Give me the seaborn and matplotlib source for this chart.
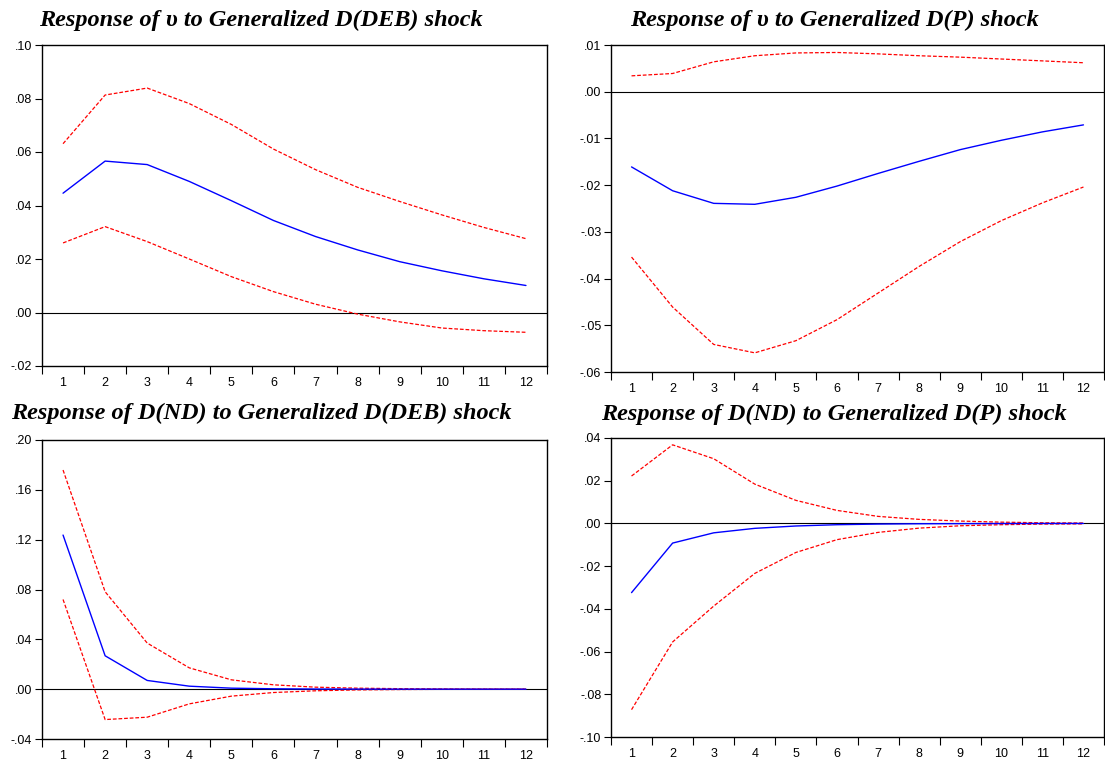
import numpy as np
import pandas as pd
import matplotlib
matplotlib.use("Agg")
import matplotlib.pyplot as plt
from matplotlib.ticker import FuncFormatter
import seaborn as sns

# periods 1..12
periods = list(range(1, 13))

# panel 1: response of upsilon to D(DEB)
p1_resp = [0.0446, 0.0566, 0.0553, 0.0490, 0.0418, 0.0344, 0.0284, 0.0234, 0.0190, 0.0156, 0.0126, 0.0101]
p1_up = [0.0631, 0.0813, 0.0839, 0.0781, 0.0703, 0.0611, 0.0534, 0.0468, 0.0415, 0.0365, 0.0318, 0.0276]
p1_lo = [0.0260, 0.0321, 0.0265, 0.0200, 0.0134, 0.0078, 0.0031, -0.0006, -0.0035, -0.0058, -0.0068, -0.0074]

# panel 2: response of upsilon to D(P)
p2_resp = [-0.0161, -0.0212, -0.0239, -0.0241, -0.0226, -0.0202, -0.0175, -0.0149, -0.0124, -0.0104, -0.0086, -0.0071]
p2_up = [0.0034, 0.0039, 0.0064, 0.0077, 0.0083, 0.0084, 0.0081, 0.0077, 0.0074, 0.0070, 0.0066, 0.0062]
p2_lo = [-0.0354, -0.0461, -0.0541, -0.0559, -0.0533, -0.0488, -0.0431, -0.0374, -0.0321, -0.0276, -0.0238, -0.0204]

# panel 3: response of D(ND) to D(DEB)
p3_resp = [0.1237, 0.0268, 0.0070, 0.0024, 0.0008, 0.0003, 0.0001, 0.00005, 0.00002, 0.00001, 0.0, 0.0]
p3_up = [0.1759, 0.0782, 0.0370, 0.0171, 0.0075, 0.0035, 0.0016, 0.0008, 0.0004, 0.0002, 0.0001, 0.00005]
p3_lo = [0.0720, -0.0244, -0.0225, -0.0118, -0.0056, -0.0027, -0.0013, -0.0006, -0.0003, -0.00015, -0.00008, -0.00004]

# panel 4: response of D(ND) to D(P)
p4_resp = [-0.0324, -0.0092, -0.0044, -0.0023, -0.0012, -0.0006, -0.0003, -0.00015, -0.0001, -0.00005, -0.00002, -0.00001]
p4_up = [0.0222, 0.0368, 0.0303, 0.0184, 0.0108, 0.0061, 0.0033, 0.0019, 0.0011, 0.0006, 0.0003, 0.0002]
p4_lo = [-0.0872, -0.0555, -0.0387, -0.0234, -0.0136, -0.0076, -0.0042, -0.0022, -0.0011, -0.0006, -0.0003, -0.0002]

titles = [
    "Response of \u03c5 to Generalized D(DEB) shock",
    "Response of \u03c5 to Generalized D(P) shock",
    "Response of D(ND) to Generalized D(DEB) shock",
    "Response of D(ND) to Generalized D(P) shock",
]
ylims = [(-0.02, 0.10), (-0.06, 0.01), (-0.04, 0.20), (-0.10, 0.04)]
ysteps = [0.02, 0.01, 0.04, 0.02]

sns.set_style("ticks")
plt.rcParams['font.family'] = ['Liberation Sans', 'DejaVu Sans']

W, H = 1105, 761
fig = plt.figure(figsize=(W / 100, H / 100), dpi=100)


def px_axes(left, top, right, bottom):
    return fig.add_axes([left / W, 1 - bottom / H, (right - left) / W, (bottom - top) / H])


axes = [
    px_axes(42, 45, 547, 366),
    px_axes(611, 45, 1104, 372),
    px_axes(42, 440, 547, 739),
    px_axes(611, 438, 1104, 737),
]
title_pos = [(261, 20), (834, 20), (261, 413), (834, 414)]


def fmt(v, pos):
    s = f"{v:.2f}"
    if s == "-0.00":
        s = "0.00"
    return s.replace("0.", ".", 1) if s.startswith("0.") or s.startswith("-0.") else s


panels = [(p1_resp, p1_up, p1_lo), (p2_resp, p2_up, p2_lo),
          (p3_resp, p3_up, p3_lo), (p4_resp, p4_up, p4_lo)]

for i, ax in enumerate(axes):
    resp, up, lo = panels[i]
    df = pd.DataFrame({"period": periods, "resp": resp, "up": up, "lo": lo})
    ax.axhline(0, color="black", lw=0.8, zorder=1)
    sns.lineplot(data=df, x="period", y="up", ax=ax, color="#ff0000", lw=0.9,
                 zorder=3).lines[-1].set_dashes((3, 1.5))
    sns.lineplot(data=df, x="period", y="lo", ax=ax, color="#ff0000", lw=0.9,
                 zorder=3).lines[-1].set_dashes((3, 1.5))
    sns.lineplot(data=df, x="period", y="resp", ax=ax, color="#0000ff", lw=1.0, zorder=4)

    ax.set_xlim(0.5, 12.5)
    ax.set_ylim(*ylims[i])
    ax.set_yticks(np.arange(ylims[i][0], ylims[i][1] + 1e-9, ysteps[i]))
    ax.yaxis.set_major_formatter(FuncFormatter(fmt))
    ax.set_xticks(np.arange(0.5, 13, 1))
    ax.set_xticklabels([])
    ax.set_xticks(periods, minor=True)
    ax.set_xticklabels([str(p) for p in periods], minor=True)
    ax.tick_params(axis="x", which="major", length=6, width=0.8, color="black")
    ax.tick_params(axis="x", which="minor", length=0, pad=8, labelsize=9, labelcolor="black")
    ax.tick_params(axis="y", length=5, width=0.8, color="black", labelsize=9, pad=2,
                   labelcolor="black")
    ax.set_xlabel("")
    ax.set_ylabel("")
    for sp in ax.spines.values():
        sp.set_visible(True)
        sp.set_color("black")
        sp.set_linewidth(1.0)

    tx, ty = title_pos[i]
    fig.text(tx / W, 1 - ty / H, titles[i], ha="center", va="center", color="black",
             fontsize=17.5, fontweight="bold", fontstyle="italic",
             family=["Liberation Serif", "DejaVu Serif"])

fig.savefig("out.png", dpi=100)
